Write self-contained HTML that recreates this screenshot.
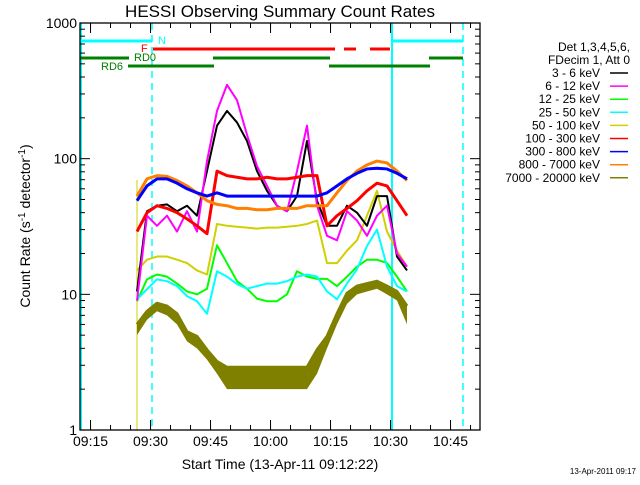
<!DOCTYPE html>
<html><head><meta charset="utf-8"><style>
body{margin:0;background:#fff}
svg text{font-family:"Liberation Sans",sans-serif}
</style></head><body>
<svg id="c" width="640" height="480" viewBox="0 0 640 480" xmlns="http://www.w3.org/2000/svg">
<rect width="640" height="480" fill="#fff"/>
<text x="280" y="17" font-size="17" text-anchor="middle">HESSI Observing Summary Count Rates</text>
<text x="30" y="226" font-size="14" text-anchor="middle" transform="rotate(-90 30 226)">Count Rate (s<tspan dy="-5" font-size="10">-1</tspan><tspan dy="5"> detector</tspan><tspan dy="-5" font-size="10">-1</tspan><tspan dy="5">)</tspan></text>
<text x="280" y="469" font-size="14" text-anchor="middle">Start Time (13-Apr-11 09:12:22)</text>
<text x="636" y="474" font-size="8" text-anchor="end">13-Apr-2011 09:17</text>
<g id="legend"></g>
<g id="plot"></g>
</svg>
<script>
const times=[14.25,16.75,19.25,21.75,24.25,26.75,29.25,31.75,34.25,36.75,39.25,41.75,44.25,46.75,49.25,51.75,54.25,56.75,59.25,61.75,64.25,66.75,69.25,71.75,74.25,76.75,79.25,81.75];
const s3_6=[10.5,41,45,46,41,45,38,81,175,225,185,135,81,58,45,41,53,135,49,32,32,45,40,32,53,53,19,15];
const s6_12=[9,38,32,38,29,41,29,96,225,350,270,150,88,63,45,41,81,175,45,27,25,41,35,27,38,45,20,16];
const s12_25=[8.9,12.9,14,13.5,12,10.5,10,11,23,17,12.5,11,9.3,8.9,8.9,10,14.8,13.5,13,13,11.5,13.5,16,18,18,17,13.5,10.5];
const s25_50=[9.2,10.9,12.9,12.5,11.5,9.7,8.9,7.2,14.8,13.5,11.9,11,11.5,12,12,12.5,13.5,14,13.5,10.5,9.2,12,15.3,22.7,30,16,11.5,10.5];
const s50_100=[15,18,19,19,18,17,15,14,33,32,31.5,31,30.5,31,31,31.5,32,33,35,17,17,21,25,38,58,29,21,16];
const s100_300=[29,40,45,43,40,36,32,28,81,75,73,71,71,73,71,71,73,75,75,32,38,43,49,58,66,63,49,38];
const s300_800=[49,63,71,71,66,60,56,53,56,53,53,53,53,53,53,53,53,53,53,56,63,71,78,84,85,84,78,71];
const s800_7000=[53,71,75,74,69,63,56,49,46,45,43,43,42,42,43,43,43,45,45,45,56,69,81,90,96,93,81,69];
const s7000_20000=[6,7.5,8.6,8.2,7.2,5.3,4.9,3.9,3.2,2.9,2.9,2.9,2.9,2.9,2.9,2.9,2.9,2.9,3.9,4.9,7.2,10.2,11.5,12,12.5,11.5,10.5,8.2];
const s7000_20000_lo=[5,6.5,7.5,7,6,4.5,4,3.3,2.6,2,2,2,2,2,2,2,2,2,2.6,4,6,8.5,10,10.5,11,10,9,6];
const legendLabels=["3 - 6 keV","6 - 12 keV","12 - 25 keV","25 - 50 keV","50 - 100 keV","100 - 300 keV","300 - 800 keV","800 - 7000 keV","7000 - 20000 keV"];
const colors=["#000000","#ff00ff","#00ff00","#00ffff","#d0d000","#ff0000","#0000ff","#ff8000","#808000"];
const yTicks=[1,10,100,1000];
const xTickLabels=["09:15","09:30","09:45","10:00","10:15","10:30","10:45"];
const xTickMins=[2.633,17.633,32.633,47.633,62.633,77.633,92.633];

const L=80,R=480,T=23,B=430;
const xs=m=>L+m*4;
const ys=v=>B-(B-T)*Math.log10(v)/3;
const NS="http://www.w3.org/2000/svg";
const plot=document.getElementById('plot');
const leg=document.getElementById('legend');
function mk(tag,attrs,parent){const e=document.createElementNS(NS,tag);for(const k in attrs)e.setAttribute(k,attrs[k]);parent.appendChild(e);return e;}

let v;
v=mk('line',{x1:L+1,y1:T,x2:L+1,y2:B,stroke:'#00ffff','stroke-width':2},plot);


v=mk('line',{x1:152,y1:T,x2:152,y2:B,stroke:'#00ffff','stroke-width':1.5,'stroke-dasharray':'7,5'},plot);


v=mk('line',{x1:392,y1:T,x2:392,y2:B,stroke:'#00ffff','stroke-width':2},plot);


v=mk('line',{x1:463,y1:T,x2:463,y2:B,stroke:'#00ffff','stroke-width':1.5,'stroke-dasharray':'7,5'},plot);


v=mk('line',{x1:137,y1:180,x2:137,y2:B,stroke:'#d0d000','stroke-width':1},plot);



const bars=[[80,152,41,'#00ffff'],[392,463,41,'#00ffff'],[153,335,49,'#ff0000'],[344,356,49,'#ff0000'],[370,390,49,'#ff0000'],[80,129,58,'#008000'],[213,330,58,'#008000'],[429,463,58,'#008000'],[128,214,66,'#008000'],[329,430,66,'#008000']];
bars.forEach(b=>{const e=mk('line',{x1:b[0],y1:b[2],x2:b[1],y2:b[2],stroke:b[3],'stroke-width':3},plot);

});
[["N",158,44,'#00ffff'],["F",141,52,'#ff0000'],["RD0",134,61,'#008000'],["RD6",101,70,'#008000']].forEach(t=>{const e=mk('text',{x:t[1],y:t[2],fill:t[3],'font-size':11},plot);e.textContent=t[0];

});

let pts=times.map((t,i)=>xs(t)+','+ys(s7000_20000[i])).concat(times.slice().reverse().map((t,j)=>{const i=times.length-1-j;return xs(t)+','+ys(s7000_20000_lo[i]);}));
v=mk('polygon',{points:pts.join(' '),fill:'#808000'},plot);



const series=[s3_6,s6_12,s12_25,s25_50,s50_100,s100_300,s300_800,s800_7000,s7000_20000];
const order=[8,2,3,4,0,1,5,7,6];
order.forEach(k=>{const s=series[k];
const p=times.map((t,i)=>xs(t)+','+ys(s[i]));
const e=mk('polyline',{points:p.join(' '),fill:'none',stroke:colors[k],'stroke-width':k>=5?3:2,'stroke-linejoin':'round'},plot);

});

v=mk('rect',{x:L,y:T,width:R-L,height:B-T,fill:'none',stroke:'#000','stroke-width':1.3},plot);



yTicks.forEach(val=>{const y=ys(val);
mk('line',{x1:L,y1:y,x2:L+10,y2:y,stroke:'#000'},plot);
mk('line',{x1:R,y1:y,x2:R-10,y2:y,stroke:'#000'},plot);
const e=mk('text',{x:L-3,y:y+5,'font-size':14,'text-anchor':'end'},plot);e.textContent=String(val);


if(val<1000)for(let m=2;m<10;m++){const yy=ys(val*m);
mk('line',{x1:L,y1:yy,x2:L+5,y2:yy,stroke:'#000'},plot);
mk('line',{x1:R,y1:yy,x2:R-5,y2:yy,stroke:'#000'},plot);}});
for(let m=xTickMins[0];m<100;m+=5){const x=xs(m);if(x<L)continue;
mk('line',{x1:x,y1:B,x2:x,y2:B-5,stroke:'#000'},plot);
mk('line',{x1:x,y1:T,x2:x,y2:T+5,stroke:'#000'},plot);}
xTickLabels.forEach((lab,i)=>{const x=xs(xTickMins[i]);
mk('line',{x1:x,y1:B,x2:x,y2:B-10,stroke:'#000'},plot);
mk('line',{x1:x,y1:T,x2:x,y2:T+10,stroke:'#000'},plot);
const e=mk('text',{x:x,y:B+16,'font-size':14,'text-anchor':'middle'},plot);e.textContent=lab;

});

[["Det 1,3,4,5,6,",630,51],["FDecim 1, Att 0",630,64]].forEach(t=>{const e=mk('text',{x:t[1],y:t[2],'font-size':12,'text-anchor':'end'},leg);e.textContent=t[0];

});
legendLabels.forEach((lab,i)=>{const y=73+i*13.1;
const e=mk('text',{x:600,y:y+4,'font-size':12,'text-anchor':'end'},leg);e.textContent=lab;


const l=mk('line',{x1:610,y1:y,x2:628,y2:y,stroke:colors[i],'stroke-width':1.5},leg);

});
</script>
</body></html>
